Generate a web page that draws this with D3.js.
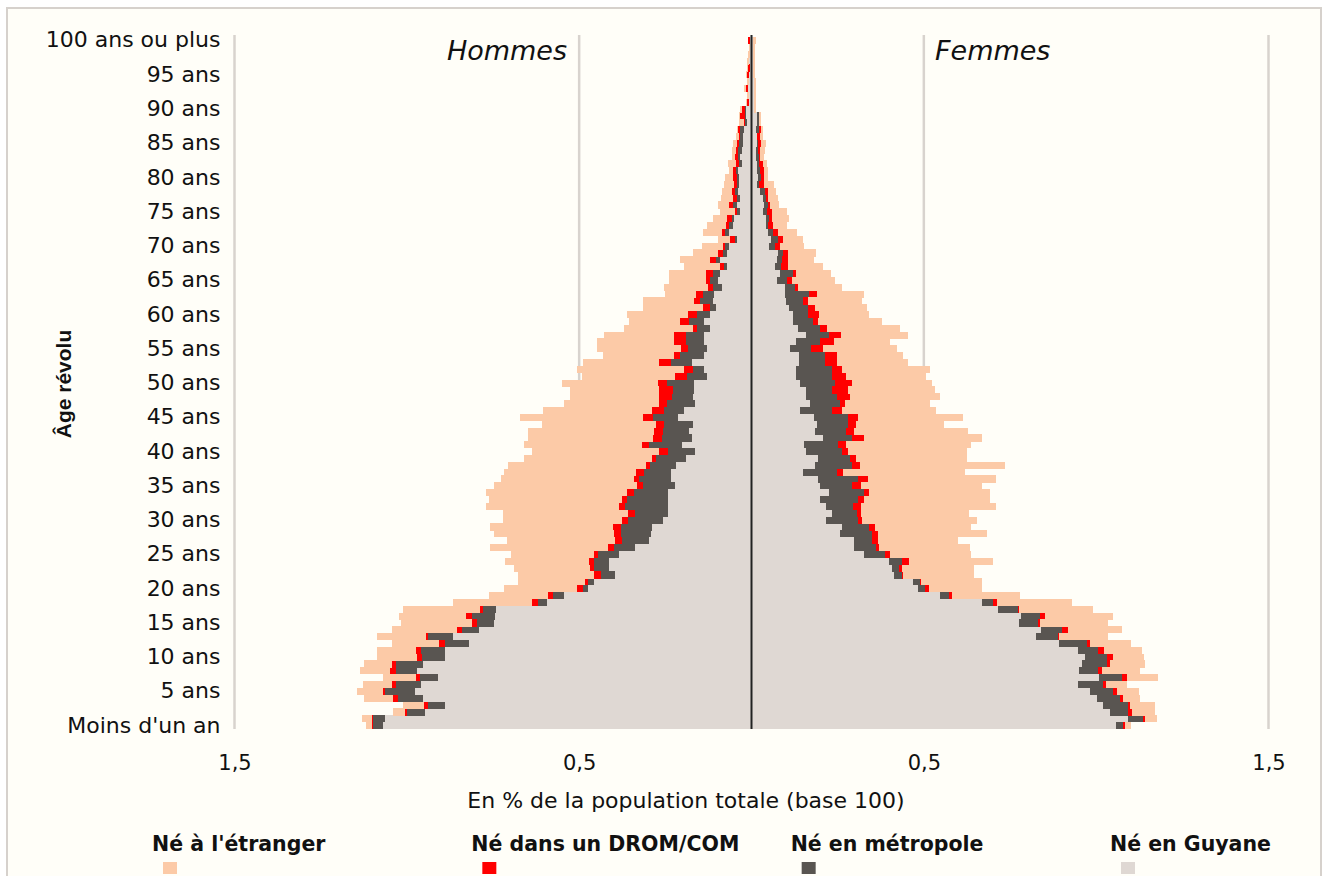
<!DOCTYPE html>
<html>
<head>
<meta charset="utf-8">
<style type="text/css">
    body { margin: 0; background: #ffffff; }
    #mySvg { display: block; }
    text { font-family: "DejaVu Sans", Verdana, sans-serif; fill: #111; }
    .sex { font-size: 27px; font-style: italic; }
    .legend text { font-size: 20.5px; font-weight: bold; }
</style>
<script src="https://d3js.org/d3.v7.min.js"></script>
</head>
<body>
<svg id="mySvg" width="1325" height="876"></svg>
<script type="text/javascript">
// ages 0 .. 100 (100 = "100 ans ou plus"), values in % of total population
const ages = d3.range(0, 101);

const seriesNames = ['Né en Guyane', 'Né en métropole', 'Né dans un DROM/COM', "Né à l'étranger"];
const legendOrder = ["Né à l'étranger", 'Né dans un DROM/COM', 'Né en métropole', 'Né en Guyane'];
const xTicks = [-1.5, -0.5, 0.5, 1.5];

const hommesGuyane = [
    1.070, 1.064, 0.948, 0.890, 0.954, 0.977, 0.959, 0.910, 0.971, 0.954,
    0.890, 0.890, 0.820, 0.867, 0.791, 0.748, 0.745, 0.742, 0.594, 0.545,
    0.475, 0.458, 0.397, 0.414, 0.414, 0.383, 0.339, 0.296, 0.293, 0.290,
    0.258, 0.241, 0.241, 0.241, 0.241, 0.223, 0.235, 0.235, 0.220, 0.191,
    0.165, 0.203, 0.174, 0.180, 0.171, 0.214, 0.197, 0.165, 0.171, 0.168,
    0.168, 0.128, 0.139, 0.174, 0.139, 0.130, 0.139, 0.139, 0.119, 0.139,
    0.119, 0.104, 0.113, 0.110, 0.087, 0.096, 0.090, 0.070, 0.090, 0.070,
    0.064, 0.041, 0.064, 0.055, 0.052, 0.032, 0.041, 0.032, 0.038, 0.035,
    0.035, 0.038, 0.029, 0.032, 0.029, 0.026, 0.026, 0.023, 0.014, 0.017,
    0.017, 0.006, 0.006, 0.009, 0.006, 0.006, 0.003, 0.006, 0.003, 0.003, 0.003];
const hommesMetropole = [
    0.029, 0.035, 0.052, 0.049, 0.072, 0.087, 0.072, 0.052, 0.061, 0.078,
    0.067, 0.070, 0.070, 0.072, 0.049, 0.049, 0.067, 0.038, 0.026, 0.032,
    0.014, 0.017, 0.041, 0.043, 0.043, 0.061, 0.061, 0.081, 0.087, 0.090,
    0.101, 0.096, 0.125, 0.119, 0.101, 0.093, 0.090, 0.078, 0.075, 0.087,
    0.078, 0.093, 0.087, 0.078, 0.084, 0.072, 0.058, 0.081, 0.061, 0.061,
    0.078, 0.058, 0.032, 0.061, 0.067, 0.055, 0.052, 0.052, 0.038, 0.043,
    0.038, 0.017, 0.035, 0.032, 0.026, 0.023, 0.023, 0.009, 0.014, 0.012,
    0.012, 0.006, 0.012, 0.009, 0.006, 0.009, 0.012, 0.009, 0.009, 0.006,
    0.006, 0.006, 0.006, 0.006, 0.009, 0.009, 0.006, 0.009, 0.006, 0.003,
    0.003, 0, 0, 0, 0, 0, 0, 0, 0, 0, 0];
const hommesDrom = [
    0.003, 0.003, 0.006, 0.012, 0.014, 0.006, 0.012, 0.012, 0.017, 0.012,
    0.014, 0.014, 0.017, 0.006, 0.014, 0.014, 0.017, 0.009, 0.017, 0.012,
    0.017, 0.009, 0.020, 0.012, 0.014, 0.014, 0.017, 0.020, 0.020, 0.023,
    0.017, 0.020, 0.017, 0.017, 0.020, 0.017, 0.017, 0.023, 0.012, 0.012,
    0.026, 0.023, 0.026, 0.026, 0.023, 0.029, 0.035, 0.023, 0.035, 0.038,
    0.026, 0.035, 0.026, 0.032, 0.020, 0.020, 0.035, 0.035, 0.014, 0.026,
    0.026, 0.020, 0.020, 0.020, 0.012, 0.014, 0.020, 0.012, 0.017, 0.014,
    0.006, 0.014, 0.009, 0.009, 0.012, 0.006, 0.012, 0.012, 0.009, 0.009,
    0.012, 0.009, 0.009, 0.009, 0.006, 0.006, 0.003, 0.006, 0.003, 0.012,
    0.009, 0.006, 0, 0.006, 0, 0.006, 0.006, 0, 0, 0, 0.006];
const hommesEtranger = [
    0.017, 0.029, 0.035, 0.061, 0.084, 0.075, 0.084, 0.096, 0.087, 0.081,
    0.116, 0.113, 0.136, 0.142, 0.188, 0.206, 0.194, 0.223, 0.229, 0.174,
    0.212, 0.194, 0.220, 0.220, 0.243, 0.241, 0.342, 0.313, 0.348, 0.357,
    0.345, 0.365, 0.388, 0.386, 0.409, 0.414, 0.386, 0.383, 0.400, 0.371,
    0.368, 0.342, 0.362, 0.365, 0.330, 0.357, 0.316, 0.275, 0.261, 0.261,
    0.278, 0.270, 0.310, 0.223, 0.206, 0.243, 0.223, 0.203, 0.200, 0.148,
    0.177, 0.174, 0.148, 0.090, 0.128, 0.107, 0.107, 0.104, 0.087, 0.075,
    0.061, 0.035, 0.055, 0.055, 0.041, 0.043, 0.032, 0.035, 0.029, 0.029,
    0.023, 0.012, 0.023, 0.009, 0.012, 0.012, 0.009, 0.003, 0.014, 0.003,
    0.003, 0.003, 0.006, 0.006, 0.006, 0.003, 0.003, 0.006, 0.006, 0.003, 0];

const femmesGuyane = [
    1.058, 1.093, 1.041, 1.020, 1.003, 0.983, 0.948, 1.009, 0.951, 0.959,
    0.968, 0.948, 0.893, 0.826, 0.841, 0.777, 0.783, 0.716, 0.670, 0.548,
    0.484, 0.470, 0.412, 0.409, 0.400, 0.325, 0.296, 0.296, 0.258, 0.264,
    0.217, 0.235, 0.217, 0.200, 0.226, 0.200, 0.194, 0.148, 0.183, 0.194,
    0.157, 0.151, 0.206, 0.183, 0.191, 0.180, 0.142, 0.171, 0.157, 0.157,
    0.142, 0.128, 0.128, 0.139, 0.139, 0.113, 0.128, 0.157, 0.136, 0.119,
    0.119, 0.110, 0.099, 0.096, 0.096, 0.075, 0.084, 0.067, 0.075, 0.078,
    0.052, 0.058, 0.049, 0.043, 0.041, 0.032, 0.035, 0.032, 0.026, 0.017,
    0.020, 0.017, 0.017, 0.012, 0.014, 0.017, 0.017, 0.012, 0.017, 0.017,
    0.006, 0.006, 0.006, 0.006, 0.006, 0.003, 0.003, 0.003, 0.003, 0.003, 0.003];
const femmesMetropole = [
    0.020, 0.043, 0.052, 0.072, 0.067, 0.067, 0.072, 0.067, 0.055, 0.072,
    0.064, 0.058, 0.081, 0.064, 0.061, 0.055, 0.055, 0.058, 0.032, 0.026,
    0.020, 0.020, 0.026, 0.020, 0.038, 0.061, 0.064, 0.055, 0.093, 0.078,
    0.093, 0.070, 0.078, 0.110, 0.101, 0.093, 0.116, 0.101, 0.110, 0.093,
    0.107, 0.101, 0.087, 0.090, 0.090, 0.099, 0.093, 0.087, 0.090, 0.078,
    0.099, 0.107, 0.107, 0.075, 0.075, 0.061, 0.072, 0.067, 0.064, 0.058,
    0.046, 0.055, 0.049, 0.070, 0.029, 0.029, 0.035, 0.020, 0.014, 0.012,
    0.017, 0.020, 0.012, 0.006, 0.009, 0.014, 0.012, 0.009, 0.012, 0.006,
    0.009, 0.009, 0.006, 0.009, 0.006, 0.003, 0, 0.009, 0.006, 0.006,
    0, 0, 0, 0, 0, 0, 0, 0, 0, 0, 0];
const femmesDrom = [
    0.006, 0.006, 0.012, 0.006, 0.009, 0.009, 0.009, 0.014, 0.012, 0.009,
    0.017, 0.017, 0.009, 0.003, 0.017, 0.006, 0.014, 0.003, 0.009, 0.009,
    0.012, 0.003, 0.003, 0.009, 0.020, 0.017, 0.009, 0.017, 0.017, 0.017,
    0.012, 0.012, 0.023, 0.017, 0.014, 0.026, 0.029, 0.017, 0.023, 0.017,
    0.017, 0.023, 0.032, 0.023, 0.023, 0.029, 0.029, 0.012, 0.038, 0.046,
    0.052, 0.038, 0.029, 0.035, 0.035, 0.032, 0.038, 0.035, 0.020, 0.017,
    0.032, 0.020, 0.017, 0.023, 0.009, 0.014, 0.009, 0.020, 0.017, 0.017,
    0.014, 0.014, 0.017, 0.014, 0.009, 0.014, 0.006, 0.006, 0.009, 0.012,
    0.006, 0.009, 0.009, 0.003, 0.006, 0.009, 0.009, 0.006, 0, 0,
    0, 0, 0, 0, 0, 0, 0, 0, 0, 0, 0];
const femmesEtranger = [
    0.017, 0.035, 0.067, 0.072, 0.049, 0.064, 0.061, 0.090, 0.110, 0.101,
    0.090, 0.110, 0.119, 0.142, 0.157, 0.197, 0.197, 0.214, 0.220, 0.197,
    0.154, 0.177, 0.206, 0.209, 0.243, 0.235, 0.264, 0.232, 0.316, 0.278,
    0.333, 0.313, 0.391, 0.365, 0.351, 0.351, 0.371, 0.354, 0.420, 0.322,
    0.345, 0.362, 0.345, 0.333, 0.255, 0.307, 0.272, 0.249, 0.261, 0.252,
    0.232, 0.232, 0.255, 0.206, 0.191, 0.217, 0.165, 0.194, 0.212, 0.186,
    0.145, 0.151, 0.157, 0.136, 0.130, 0.125, 0.104, 0.099, 0.075, 0.081,
    0.070, 0.058, 0.055, 0.041, 0.049, 0.043, 0.026, 0.029, 0.023, 0.029,
    0.012, 0.012, 0.014, 0.012, 0.012, 0.012, 0.006, 0.006, 0.006, 0.006,
    0.006, 0.006, 0.006, 0.006, 0.006, 0.006, 0.006, 0.006, 0.006, 0.006, 0.009];

// build row tables for d3.stack
function makeRows(g, m, d, e) {
    return ages.map((a, i) => ({
        age: a,
        'Né en Guyane': g[i],
        'Né en métropole': m[i],
        'Né dans un DROM/COM': d[i],
        "Né à l'étranger": e[i]
    }));
}
const hommes = makeRows(hommesGuyane, hommesMetropole, hommesDrom, hommesEtranger);
const femmes = makeRows(femmesGuyane, femmesMetropole, femmesDrom, femmesEtranger);

const colors = d3.scaleOrdinal()
    .domain(seriesNames)
    .range(['#dfd8d3', '#595551', '#ff0000', '#fccaa7']);

const svg = d3.select('#mySvg');

// chart frame
svg.append('rect')
    .attr('x', 7).attr('y', 8)
    .attr('width', 1314).attr('height', 880)
    .attr('fill', '#fffef8')
    .attr('stroke', '#d6d1cc')
    .attr('stroke-width', 2);

const x = d3.scaleLinear().domain([-1.5, 1.5]).range([234.5, 1268.5]);
const y = d3.scaleBand().domain(ages).range([729, 37]).paddingInner(0).paddingOuter(0);

// gridlines
svg.append('g')
    .selectAll('line')
    .data(xTicks)
    .enter()
    .append('line')
    .attr('x1', d => x(d)).attr('x2', d => x(d))
    .attr('y1', 35).attr('y2', 729)
    .attr('stroke', '#d8d3ce')
    .attr('stroke-width', 2.5);

const stack = d3.stack().keys(seriesNames);

function drawSide(rows, sign) {
    const layers = stack(rows);
    svg.append('g')
        .selectAll('g')
        .data(layers)
        .enter()
        .append('g')
        .attr('fill', d => colors(d.key))
        .selectAll('rect')
        .data(d => d)
        .enter()
        .append('rect')
        .attr('shape-rendering', 'crispEdges')
        .attr('x', d => Math.min(x(sign * d[0]), x(sign * d[1])))
        .attr('width', d => Math.abs(x(sign * d[1]) - x(sign * d[0])))
        .attr('y', d => y(d.data.age))
        .attr('height', y.bandwidth() + 0.3);
}
drawSide(hommes, -1);
drawSide(femmes, 1);

// center line
svg.append('line')
    .attr('x1', x(0)).attr('x2', x(0))
    .attr('y1', 35).attr('y2', 729)
    .attr('stroke', '#222')
    .attr('stroke-width', 2);

// y axis labels
const yAxis = d3.axisLeft(y)
    .tickValues(ages.filter(a => a % 5 === 0))
    .tickSize(0)
    .tickPadding(14)
    .tickFormat(a => a === 0 ? "Moins d'un an" : (a === 100 ? '100 ans ou plus' : a + ' ans'));
svg.append('g')
    .attr('transform', 'translate(' + x(-1.5) + ',0)')
    .call(yAxis)
    .call(g => g.select('.domain').remove())
    .selectAll('text').style('font-family', '"DejaVu Sans", sans-serif').style('font-size', '22px').attr('fill', '#111');

// x axis labels
const xAxis = d3.axisBottom(x)
    .tickValues(xTicks)
    .tickSize(0)
    .tickPadding(26)
    .tickFormat(d => d3.format('.1f')(Math.abs(d)).replace('.', ','));
svg.append('g')
    .attr('transform', 'translate(0,729)')
    .call(xAxis)
    .call(g => g.select('.domain').remove())
    .selectAll('text').style('font-family', '"DejaVu Sans", sans-serif').style('font-size', '21px').attr('fill', '#111');

// titles
svg.append('text').attr('class', 'sex')
    .attr('x', 567).attr('y', 60).attr('text-anchor', 'end').text('Hommes');
svg.append('text').attr('class', 'sex')
    .attr('x', 935).attr('y', 60).attr('text-anchor', 'start').text('Femmes');

svg.append('text')
    .attr('x', 686).attr('y', 808)
    .attr('text-anchor', 'middle')
    .style('font-size', '22px')
    .text('En % de la population totale (base 100)');

svg.append('text')
    .attr('transform', 'translate(71,384) rotate(-90)')
    .attr('text-anchor', 'middle')
    .style('font-size', '21px')
    .style('font-weight', 'bold')
    .style('font-family', '"Liberation Sans Narrow", "Liberation Sans", sans-serif')
    .text('Âge révolu');

// legend
const legendX = d3.scalePoint().domain(legendOrder).range([152, 1110]);
const legend = svg.append('g').attr('class', 'legend')
    .selectAll('g')
    .data(legendOrder)
    .enter()
    .append('g')
    .attr('transform', d => 'translate(' + legendX(d) + ',0)');
legend.append('text')
    .attr('x', 0).attr('y', 851)
    .text(d => d);
legend.append('rect')
    .attr('x', 11).attr('y', 862)
    .attr('width', 14).attr('height', 12)
    .attr('fill', d => colors(d));
</script>
</body>
</html>
